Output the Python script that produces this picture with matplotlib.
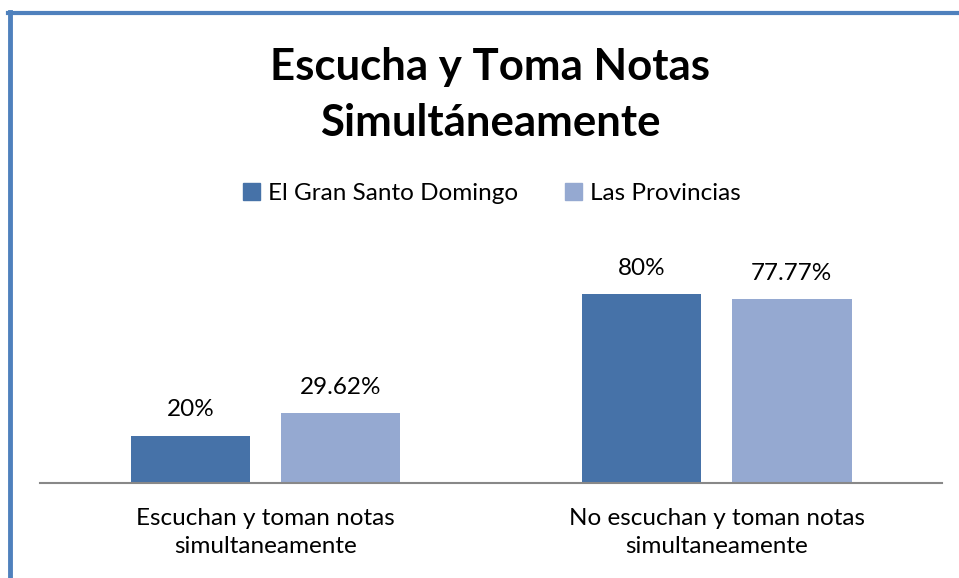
import numpy as np
import matplotlib
matplotlib.use("Agg")
import matplotlib.pyplot as plt
from matplotlib.lines import Line2D
from matplotlib.patches import Patch

categories = ["Escuchan y toman notas\nsimultaneamente",
              "No escuchan y toman notas\nsimultaneamente"]
series_names = ["El Gran Santo Domingo", "Las Provincias"]
gran_sd = [20, 80]
provincias = [29.62, 77.77]
value_labels = [["20%", "80%"], ["29.62%", "77.77%"]]

dark = "#4672A8"
light = "#95A9D1"
border = "#4F81BD"

plt.rcParams['font.family'] = ['Lato', 'DejaVu Sans']

fig = plt.figure(figsize=(9.59, 5.78), dpi=100)
ax = fig.add_axes([0.0417, 0.1644, 0.9406, 0.4083])

x = np.arange(len(categories))
w = 0.266
off = 0.1663
b1 = ax.bar(x - off, gran_sd, w, color=dark)
b2 = ax.bar(x + off, provincias, w, color=light)

for bars, labs in zip([b1, b2], value_labels):
    for b, lab in zip(bars, labs):
        ax.annotate(lab, (b.get_x() + b.get_width() / 2, b.get_height()),
                    xytext=(0, 11), textcoords="offset points",
                    ha="center", va="bottom", fontsize=17.5)

ax.set_xlim(-0.5, 1.5)
ax.set_ylim(0, 100)
ax.set_xticks(x)
ax.set_xticklabels(categories, fontsize=17.5, linespacing=1.4)
ax.tick_params(axis="x", length=0, pad=18)
ax.set_yticks([])
for s in ["top", "right", "left"]:
    ax.spines[s].set_visible(False)
ax.spines["bottom"].set_color("#888888")
ax.spines["bottom"].set_linewidth(1.5)

fig.text(0.511, 0.836, "Escucha y Toma Notas\nSimultáneamente", ha="center",
         va="center", fontsize=31.5, fontweight="bold", linespacing=1.5)

handles = [Patch(color=dark), Patch(color=light)]
fig.legend(handles, series_names, loc="center", bbox_to_anchor=(0.513, 0.665),
           ncol=2, frameon=False, fontsize=17.5, handlelength=0.7,
           handleheight=0.7, handletextpad=0.35, columnspacing=1.9)

fig.add_artist(Line2D([8 / 959, 1], [1 - 13 / 578] * 2, color=border, lw=3,
                      transform=fig.transFigure))
fig.add_artist(Line2D([10 / 959] * 2, [0, 1 - 11.5 / 578], color=border, lw=3.5,
                      transform=fig.transFigure))

fig.savefig("out.png", dpi=100)
